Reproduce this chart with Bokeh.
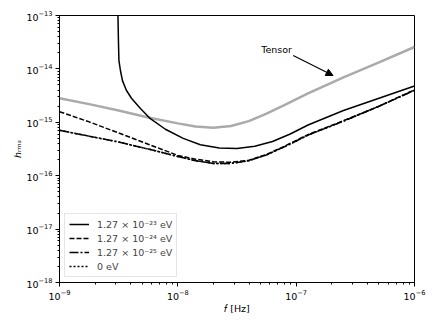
from bokeh.plotting import figure
from bokeh.models import (Range1d, FixedTicker, LogTickFormatter, Label, Arrow,
                          NormalHead, Legend, LegendItem)
from bokeh.embed import file_html
from bokeh.resources import INLINE

# ---------------- data ----------------
freq = [1.00e-9, 1.78e-9, 3.16e-9, 5.62e-9, 1.00e-8, 1.41e-8, 2.00e-8, 2.82e-8,
        3.98e-8, 5.62e-8, 7.94e-8, 1.26e-7, 2.51e-7, 5.01e-7, 1.00e-6]

tensor_h = [2.82e-15, 2.19e-15, 1.66e-15, 1.23e-15, 9.55e-16, 8.32e-16, 7.94e-16, 8.51e-16,
            1.05e-15, 1.45e-15, 2.09e-15, 3.47e-15, 6.92e-15, 1.32e-14, 2.57e-14]

dashed_h = [1.58e-15, 1.02e-15, 6.31e-16, 3.89e-16, 2.40e-16, 2.04e-16, 1.82e-16, 1.78e-16,
            1.95e-16, 2.51e-16, 3.55e-16, 5.89e-16, 1.07e-15, 2.00e-15, 4.07e-15]

dashdot_h = [7.08e-16, 5.50e-16, 4.27e-16, 3.16e-16, 2.29e-16, 1.91e-16, 1.70e-16, 1.70e-16,
             1.91e-16, 2.45e-16, 3.47e-16, 5.75e-16, 1.05e-15, 2.00e-15, 3.98e-15]

dotted_h = [7.08e-16, 5.50e-16, 4.27e-16, 3.16e-16, 2.29e-16, 1.91e-16, 1.70e-16, 1.70e-16,
            1.91e-16, 2.45e-16, 3.47e-16, 5.75e-16, 1.05e-15, 2.00e-15, 3.98e-15]

solid_f = [3.117e-9, 3.119e-9, 3.148e-9, 3.177e-9, 3.273e-9, 3.404e-9, 3.673e-9, 4.055e-9,
           4.83e-9, 5.86e-9, 7.85e-9, 1.11e-8, 1.55e-8, 2.24e-8, 3.16e-8, 4.47e-8,
           6.31e-8, 8.91e-8, 1.26e-7, 2.51e-7, 5.01e-7, 1.00e-6]
solid_h = [3.16e-13, 1.00e-13, 3.39e-14, 1.45e-14, 9.33e-15, 6.03e-15, 3.98e-15, 2.82e-15,
           1.82e-15, 1.17e-15, 7.41e-16, 5.01e-16, 3.80e-16, 3.31e-16, 3.24e-16, 3.55e-16,
           4.37e-16, 6.03e-16, 8.91e-16, 1.66e-15, 2.82e-15, 4.79e-15]

legend_labels = ["1.27 \u00d7 10\u207b\u00b2\u00b3 eV",
                 "1.27 \u00d7 10\u207b\u00b2\u2074 eV",
                 "1.27 \u00d7 10\u207b\u00b2\u2075 eV",
                 "0 eV"]

x_ticks = [1e-9, 1e-8, 1e-7, 1e-6]
y_ticks = [1e-18, 1e-17, 1e-16, 1e-15, 1e-14, 1e-13]

x_label = "\U0001D453 [Hz]"
y_label = "h\u1D63\u2098\u209B"

tensor_text = "Tensor"
tensor_text_pos = (5.07e-8, 2.31e-14)
tensor_arrow_start = (9.44e-8, 1.78e-14)
tensor_arrow_end = (2.05e-7, 7.52e-15)

FONT = "DejaVu Sans"

# ---------------- figure ----------------
p = figure(x_axis_type="log", y_axis_type="log",
           frame_width=355, frame_height=267,
           x_range=Range1d(1e-9, 1e-6), y_range=Range1d(1e-18, 1e-13),
           output_backend="svg", toolbar_location=None,
           min_border_left=59, min_border_right=22,
           min_border_top=15, min_border_bottom=45)
p.grid.visible = False
p.outline_line_color = "black"
p.outline_line_width = 1
p.outline_line_alpha = 1.0
p.background_fill_color = "white"
p.border_fill_color = "white"


def minor_for(ticks):
    out = []
    for t in ticks[:-1]:
        for k in range(2, 10):
            out.append(t * k)
    return out


p.xaxis.ticker = FixedTicker(ticks=x_ticks, minor_ticks=minor_for(x_ticks))
p.yaxis.ticker = FixedTicker(ticks=y_ticks, minor_ticks=minor_for(y_ticks))
p.xaxis.formatter = LogTickFormatter()
p.yaxis.formatter = LogTickFormatter()

for ax in (p.xaxis[0], p.yaxis[0]):
    ax.major_tick_in = 0
    ax.major_tick_out = 4
    ax.minor_tick_in = 0
    ax.minor_tick_out = 2
    ax.axis_line_color = "black"
    ax.major_tick_line_color = "black"
    ax.minor_tick_line_color = "black"
    ax.major_label_text_font = FONT
    ax.major_label_text_font_size = "9.5px"
    ax.major_label_text_color = "black"
    ax.axis_label_text_font = FONT
    ax.axis_label_text_font_size = "9.5px"
    ax.axis_label_text_color = "black"
    ax.axis_label_standoff = 0
p.xaxis.major_label_standoff = 3
p.yaxis.major_label_standoff = 3
p.xaxis.axis_label = x_label
p.xaxis.axis_label_text_font_style = "normal"
p.yaxis.axis_label = y_label
p.yaxis.axis_label_text_font_style = "italic"

# ---------------- lines ----------------
r_t = p.line(freq, tensor_h, line_color="#aaaaaa", line_width=2.5)
r1 = p.line(solid_f, solid_h, line_color="black", line_width=1.5)
r2 = p.line(freq, dashed_h, line_color="black", line_width=1.5, line_dash="5 2")
r3 = p.line(freq, dashdot_h, line_color="black", line_width=1.5, line_dash="9 2 2 2")
r4 = p.line(freq, dotted_h, line_color="black", line_width=1.5, line_dash="2 2")

legend = Legend(items=[LegendItem(label=legend_labels[0], renderers=[r1]),
                       LegendItem(label=legend_labels[1], renderers=[r2]),
                       LegendItem(label=legend_labels[2], renderers=[r3]),
                       LegendItem(label=legend_labels[3], renderers=[r4])],
                location="bottom_left", margin=5, padding=4, spacing=2,
                glyph_width=20, glyph_height=12, label_height=12, label_standoff=8,
                label_text_font=FONT, label_text_font_size="9.5px",
                border_line_color="#cccccc", border_line_width=1,
                background_fill_color="white", background_fill_alpha=0.8)
p.add_layout(legend)

# ---------------- annotation ----------------
p.add_layout(Label(x=tensor_text_pos[0], y=tensor_text_pos[1], text=tensor_text,
                   text_font=FONT, text_font_size="9.5px", text_align="left",
                   text_baseline="middle", text_color="black"))
p.add_layout(Arrow(x_start=tensor_arrow_start[0], y_start=tensor_arrow_start[1],
                   x_end=tensor_arrow_end[0], y_end=tensor_arrow_end[1],
                   line_color="black", line_width=1.2,
                   end=NormalHead(size=7, fill_color="black", line_color="black")))

open("out.html", "w").write(file_html(p, INLINE))
